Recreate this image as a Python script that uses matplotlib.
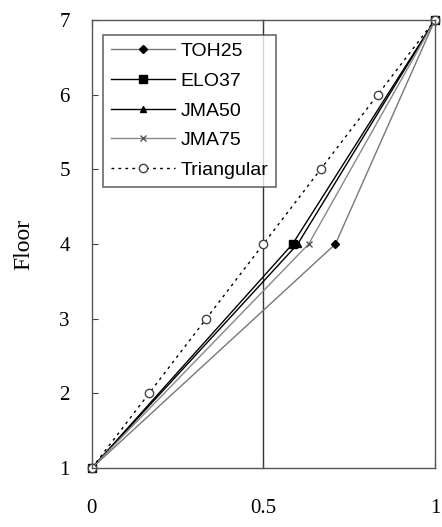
import matplotlib
matplotlib.use("Agg")
import matplotlib.pyplot as plt

floors = [1, 4, 7]
toh25 = [0.0, 0.71, 1.0]
elo37 = [0.0, 0.585, 1.0]
jma50 = [0.0, 0.60, 1.0]
jma75 = [0.0, 0.632, 1.0]
tri_floors = [1, 2, 3, 4, 5, 6, 7]
triangular = [0.0, 1/6, 1/3, 0.5, 2/3, 5/6, 1.0]

x_ticks = [0, 0.5, 1]
x_ticklabels = ["0", "0.5", "1"]
y_ticks = [1, 2, 3, 4, 5, 6, 7]

fig = plt.figure(figsize=(4.42, 5.27), dpi=100)
ax = fig.add_axes([0.208, 0.112, 0.776, 0.850])

ax.axvline(0.5, color="#333333", lw=1.0, zorder=1)

ax.plot(toh25, floors, color="#777777", lw=1.0, marker="D", ms=4.5,
        mfc="black", mec="black", label="TOH25")
ax.plot(elo37, floors, color="black", lw=1.0, marker="s", ms=6,
        mfc="black", mec="black", label="ELO37")
ax.plot(jma50, floors, color="black", lw=1.0, marker="^", ms=5,
        mfc="black", mec="black", label="JMA50")
ax.plot(jma75, floors, color="#888888", lw=1.0, marker="x", ms=5,
        mec="#555555", label="JMA75")
ax.plot(triangular, tri_floors, color="black", lw=1.0, ls=(0, (2, 3)),
        marker="o", ms=6, mfc="white", mec="#444444", label="Triangular")

ax.set_xlim(0, 1)
ax.set_ylim(1, 7)
ax.set_xticks(x_ticks)
ax.set_xticklabels(x_ticklabels)
ax.set_yticks(y_ticks)
for lab in ax.get_xticklabels() + ax.get_yticklabels():
    lab.set_family("Liberation Serif")
    lab.set_fontsize(15)
ax.tick_params(direction="in", length=4, top=True, right=False, color="#444444")
ax.tick_params(axis="x", pad=22)
ax.tick_params(axis="y", pad=16)
ax.set_ylabel("Floor", family="Liberation Serif", fontsize=17, labelpad=18)
for s in ax.spines.values():
    s.set_color("#555555")
    s.set_linewidth(1.0)
for line in ax.get_lines():
    line.set_clip_on(False)

leg = ax.legend(loc="upper left", bbox_to_anchor=(0.032, 0.967),
                prop={"family": "Liberation Sans", "size": 14},
                frameon=True, fancybox=False, edgecolor="#444444",
                handlelength=3.3, handletextpad=0.3, labelspacing=0.62,
                borderpad=0.4, borderaxespad=0.0)
leg.get_frame().set_linewidth(1.2)

fig.savefig("out.png", dpi=100)
